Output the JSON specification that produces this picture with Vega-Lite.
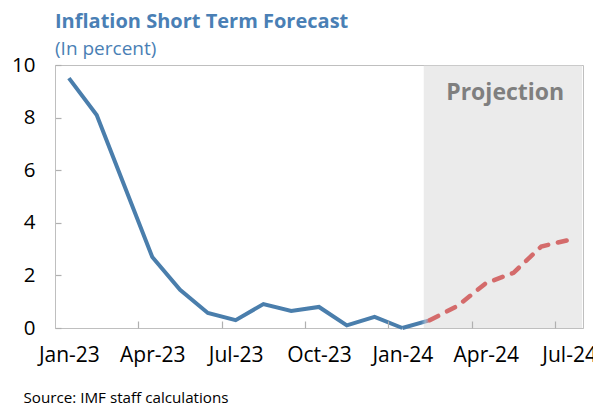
{
  "$schema": "https://vega.github.io/schema/vega-lite/v6.json",
  "width": 528,
  "height": 263,
  "autosize": "none",
  "padding": {"left": 55, "top": 65, "right": 10, "bottom": 76},
  "background": "white",
  "config": {
    "font": "Open Sans",
    "view": {"stroke": "#bfbfbf", "strokeWidth": 1},
    "axisY": {"values": [0, 2, 4, 6, 8, 10], "grid": false, "domainColor": "#bfbfbf", "ticks": true, "tickColor": "#b0b0b0", "tickWidth": 1.2, "tickSize": -6, "labelFontSize": 20.5, "labelColor": "#000000", "labelPadding": 26, "labelFont": "Open Sans"},
    "axisX": {"grid": false, "labelFontSize": 21, "labelColor": "#000000", "labelFont": "Open Sans"}
  },
  "title": {
    "text": "Inflation Short Term Forecast",
    "subtitle": "(In percent)",
    "anchor": "start",
    "frame": "group",
    "color": "#4a7fb5",
    "subtitleColor": "#4a7fb5",
    "fontSize": 20,
    "fontWeight": "bold",
    "subtitleFontSize": 19,
    "subtitleFontWeight": "normal",
    "font": "Open Sans",
    "subtitleFont": "Open Sans",
    "offset": -4,
    "subtitlePadding": 8
  },
  "datasets": {
    "actual": [
      {"month": "Jan-23", "idx": 0, "value": 9.5},
      {"month": "Feb-23", "idx": 1, "value": 8.1},
      {"month": "Mar-23", "idx": 2, "value": 5.4},
      {"month": "Apr-23", "idx": 3, "value": 2.7},
      {"month": "May-23", "idx": 4, "value": 1.45},
      {"month": "Jun-23", "idx": 5, "value": 0.57},
      {"month": "Jul-23", "idx": 6, "value": 0.3},
      {"month": "Aug-23", "idx": 7, "value": 0.91},
      {"month": "Sep-23", "idx": 8, "value": 0.65},
      {"month": "Oct-23", "idx": 9, "value": 0.8},
      {"month": "Nov-23", "idx": 10, "value": 0.1},
      {"month": "Dec-23", "idx": 11, "value": 0.42},
      {"month": "Jan-24", "idx": 12, "value": 0.0}
    ],
    "bridge": [
      {"month": "Jan-24", "idx": 12, "value": 0.0},
      {"month": "Feb-24", "idx": 13, "value": 0.3}
    ],
    "projection": [
      {"month": "Feb-24", "idx": 13, "value": 0.3},
      {"month": "Mar-24", "idx": 14, "value": 0.85},
      {"month": "Apr-24", "idx": 15, "value": 1.7},
      {"month": "May-24", "idx": 16, "value": 2.1},
      {"month": "Jun-24", "idx": 17, "value": 3.1},
      {"month": "Jul-24", "idx": 18, "value": 3.35}
    ],
    "shade": [
      {"start": 12.77, "end": 18.47, "low": 0, "high": 9.97}
    ],
    "label": [
      {"idx": 15.7, "value": 8.95, "text": "Projection"}
    ]
  },
  "resolve": {"axis": {"x": "independent"}},
  "layer": [
    {
      "data": {"name": "shade"},
      "mark": {"type": "rect", "color": "#ebebeb"},
      "encoding": {
        "x": {"field": "start", "type": "quantitative", "scale": {"domain": [-0.5, 18.5], "nice": false, "zero": false},
          "axis": {"orient": "bottom", "values": [0, 3, 6, 9, 12, 15, 18], "ticks": false, "domainColor": "#bfbfbf", "labelPadding": 16, "title": null,
            "labelExpr": "['Jan-23','Apr-23','Jul-23','Oct-23','Jan-24','Apr-24','Jul-24'][round(datum.value/3)]"}},
        "x2": {"field": "end"},
        "y": {"field": "low", "type": "quantitative", "scale": {"domain": [0, 10], "nice": false}, "title": null},
        "y2": {"field": "high"}
      }
    },
    {
      "data": {"name": "actual"},
      "mark": {"type": "line", "color": "#4a7eac", "strokeWidth": 4, "strokeJoin": "miter"},
      "encoding": {
        "x": {"field": "idx", "type": "quantitative",
          "axis": {"orient": "bottom", "values": [2.5, 5.5, 8.5, 11.5, 14.5, 17.5], "labels": false, "domain": false, "ticks": true, "tickSize": -7, "tickWidth": 1.2, "tickColor": "#b0b0b0", "zindex": 1,
            "title": "Source: IMF staff calculations", "titleFontSize": 15.2, "titleFontWeight": "normal", "titleColor": "#000000", "titleFont": "Open Sans",
            "titleAnchor": "start", "titleAlign": "left", "titleBaseline": "middle", "titleX": -32, "titleY": 69}},
        "y": {"field": "value", "type": "quantitative", "title": null}
      }
    },
    {
      "data": {"name": "bridge"},
      "mark": {"type": "line", "strokeWidth": 4, "strokeCap": "butt",
        "color": {"gradient": "linear", "x1": 0, "y1": 0, "x2": 1, "y2": 0,
          "stops": [{"offset": 0, "color": "#4a7eac"}, {"offset": 0.68, "color": "#4a7eac"}, {"offset": 0.82, "color": "#8fb0cc"}, {"offset": 1, "color": "#d46b6b"}]}},
      "encoding": {
        "x": {"field": "idx", "type": "quantitative", "axis": null},
        "y": {"field": "value", "type": "quantitative", "title": null}
      }
    },
    {
      "data": {"name": "projection"},
      "mark": {"type": "line", "color": "#d46b6b", "strokeWidth": 4.5, "strokeDash": [9, 10], "strokeCap": "round"},
      "encoding": {
        "x": {"field": "idx", "type": "quantitative", "axis": null},
        "y": {"field": "value", "type": "quantitative", "title": null}
      }
    },
    {
      "data": {"name": "label"},
      "mark": {"type": "text", "fontSize": 23, "fontWeight": "bold", "color": "#7f7f7f", "align": "center", "baseline": "middle", "font": "Open Sans"},
      "encoding": {
        "x": {"field": "idx", "type": "quantitative", "axis": null},
        "y": {"field": "value", "type": "quantitative", "title": null},
        "text": {"field": "text"}
      }
    }
  ]
}
